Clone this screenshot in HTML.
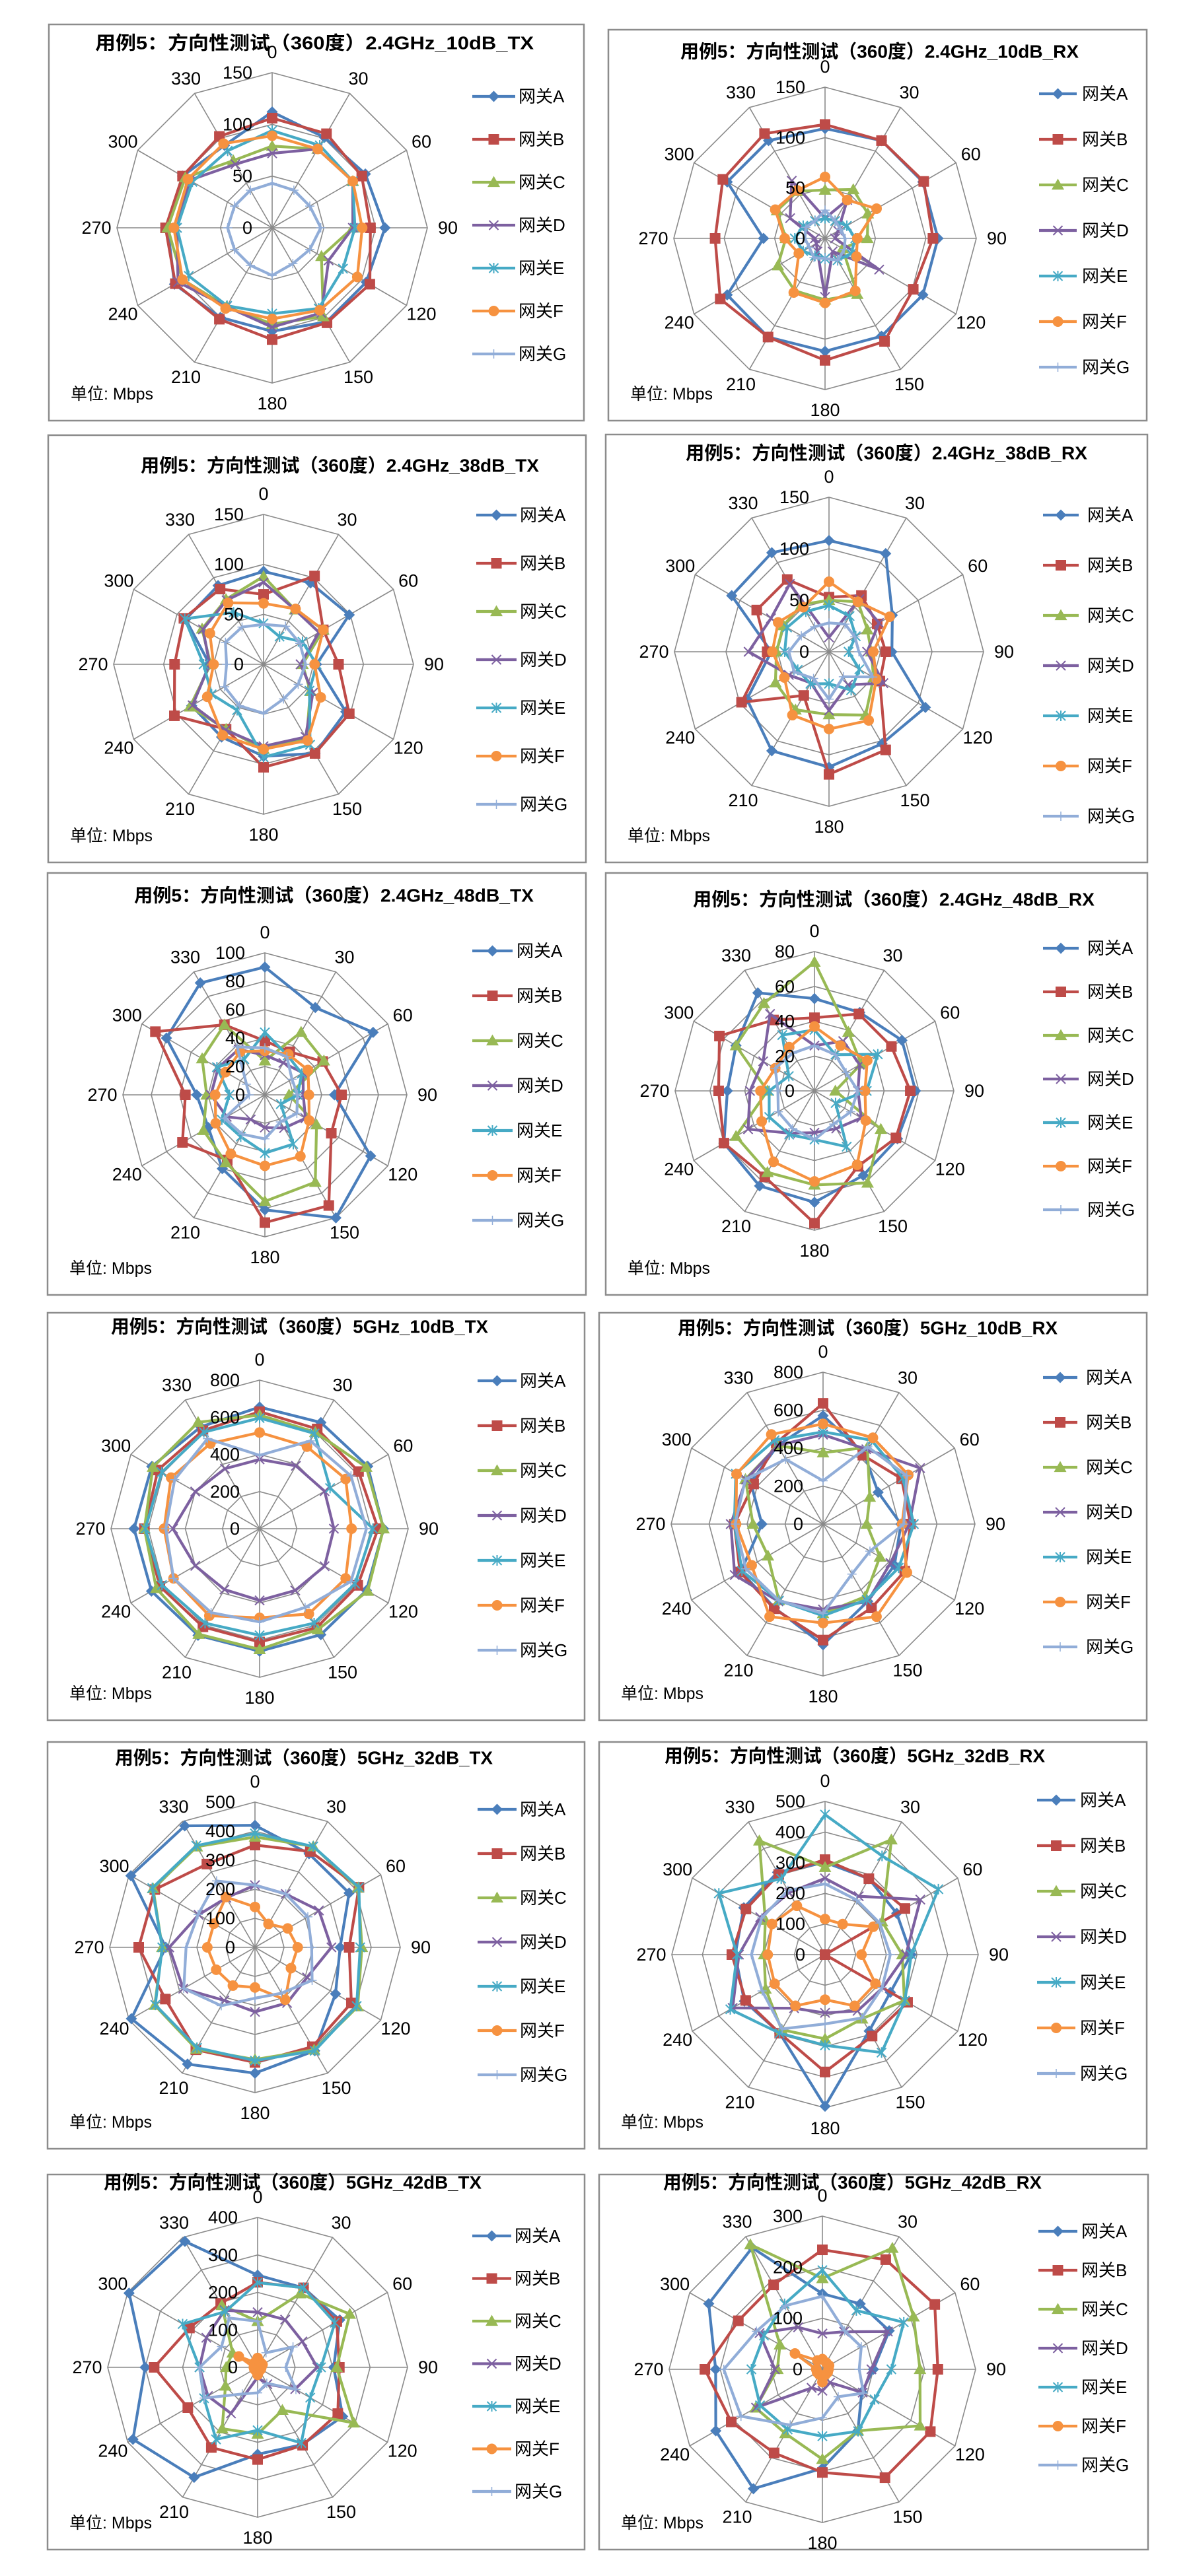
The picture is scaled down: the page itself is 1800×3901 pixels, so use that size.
<!DOCTYPE html>
<html><head><meta charset="utf-8">
<style>
html,body{margin:0;padding:0;background:#fff;}
svg{display:block;}
text{font-family:"Liberation Sans","Noto Sans CJK SC",sans-serif;fill:#000;}
</style></head>
<body>
<svg id="s" width="1800" height="3901" viewBox="0 0 1800 3901" xmlns="http://www.w3.org/2000/svg"></svg>
<script>
var COLORS=["#4A7EBB","#BE4B48","#98B954","#7D60A0","#46AAC5","#F69240","#91ADD8"];
var NAMES=["网关A","网关B","网关C","网关D","网关E","网关F","网关G"];
var charts=[
{t:"2.4GHz_10dB_TX",p:[74,37,884,637],c:[412,345],r:235,max:150,st:50,lg:[715,780,785,146,65],tt:[144,808,65],
d:[[112,101,104,109,105,105,100,100,109,101,100,92],[106,105,100,95,109,106,108,102,108,103,100,102],[79,88,90,78,55,99,93,88,100,101,97,75],[72,88,90,78,63,95,96,88,105,92,92,71],[94,92,90,80,79,90,83,87,93,92,89,86],[89,88,90,87,95,92,88,90,100,95,94,94],[43,42,42,47,42,40,46,42,42,43,42,42]]},
{t:"2.4GHz_10dB_RX",p:[921,45,1736,637],c:[1249,361],r:229,max:150,st:50,lg:[1573,1630,1638,142,69],tt:[1030,1633,78],
d:[[109,112,112,112,112,112,112,113,112,61,112,112],[113,112,113,107,101,118,121,113,120,109,117,120],[48,56,49,42,20,64,61,60,54,39,55,54],[20,44,15,10,62,15,58,15,10,10,40,66],[20,20,25,30,30,25,20,20,25,30,25,20],[61,44,59,32,36,60,64,62,30,40,57,55],[28,20,18,20,22,25,20,22,18,20,22,20]]},
{t:"2.4GHz_38dB_TX",p:[73,659,887,1306],c:[399,1006],r:227,max:150,st:50,lg:[721,782,787,780,73],tt:[213,816,705],
d:[[93,94,99,53,95,103,92,84,83,54,90,91],[70,102,69,75,99,103,103,75,103,89,92,87],[88,63,69,39,54,86,85,75,85,53,71,75],[82,63,64,37,57,84,82,76,82,54,70,74],[41,32,45,53,53,93,93,53,60,60,91,60],[61,64,69,51,66,88,85,82,65,50,62,71],[40,44,42,42,40,40,49,48,45,37,44,43]]},
{t:"2.4GHz_38dB_RX",p:[917,658,1737,1306],c:[1255,987],r:234,max:150,st:50,lg:[1579,1633,1646,780,76],tt:[1038,1646,686],
d:[[108,110,71,61,108,103,112,111,92,56,109,111],[53,63,54,55,57,110,119,49,98,60,81,81],[50,56,43,41,50,71,61,65,60,51,51,53],[14,59,56,37,61,37,57,35,45,78,65,76],[45,40,30,19,34,43,31,36,35,43,47,45],[68,56,68,43,53,77,75,71,50,55,57,50],[28,31,29,29,49,28,46,30,39,39,31,28]]},
{t:"2.4GHz_48dB_TX",p:[72,1322,887,1961],c:[401,1658],r:215,max:100,st:20,lg:[715,776,782,1440,68],tt:[203,808,1356],
d:[[90,71,88,49,86,100,81,60,46,48,80,91],[38,35,47,54,54,90,90,53,67,56,89,57],[24,51,48,17,42,71,75,55,50,41,51,57],[28,26,31,27,33,27,23,20,31,38,38,37],[44,32,30,23,13,40,41,34,35,25,39,29],[31,33,35,31,36,50,50,48,40,35,32,35],[33,31,22,23,26,22,31,32,33,11,15,39]]},
{t:"2.4GHz_48dB_RX",p:[917,1322,1737,1961],c:[1233,1652],r:211,max:80,st:20,lg:[1579,1633,1646,1436,66],tt:[1049,1657,1362],
d:[[53,52,58,58,55,56,64,63,60,50,52,65],[42,51,51,55,54,50,76,57,60,55,63,47],[74,39,31,12,44,61,54,54,52,27,52,58],[26,33,30,25,31,25,24,28,44,37,34,51],[35,24,42,30,14,37,28,29,30,26,17,37],[37,30,35,29,34,49,52,47,35,31,26,29],[26,24,21,25,24,22,28,25,24,21,26,25]]},
{t:"5GHz_10dB_TX",p:[72,1988,885,2605],c:[393,2315],r:225,max:800,st:200,lg:[723,782,787,2091,68],tt:[168,739,2009],
d:[[655,660,672,667,664,659,660,663,672,676,670,633],[630,620,615,638,610,615,610,610,620,620,632,610],[612,600,663,667,672,627,650,656,642,620,663,662],[373,391,404,400,404,384,386,378,400,466,400,373],[596,592,438,610,593,587,574,587,607,615,608,600],[518,510,535,495,535,530,480,541,535,514,550,530],[395,546,568,575,568,490,502,522,535,505,528,560]]},
{t:"5GHz_10dB_RX",p:[907,1988,1736,2605],c:[1246,2308],r:230,max:800,st:200,lg:[1579,1631,1644,2086,68],tt:[1026,1601,2011],
d:[[571,430,335,410,434,470,636,510,500,322,440,478],[636,419,478,460,497,510,611,515,505,467,422,493],[376,467,284,230,346,442,471,465,335,369,472,478],[471,455,590,454,410,470,450,470,537,486,468,478],[486,510,485,478,460,460,483,465,493,467,530,510],[528,525,518,416,510,563,521,563,434,458,526,545],[228,470,509,425,285,304,471,465,470,463,472,394]]},
{t:"5GHz_32dB_TX",p:[72,2638,885,3254],c:[386,2949],r:220,max:500,st:100,lg:[723,782,787,2740,67],tt:[174,746,2662],
d:[[420,372,374,293,320,411,433,464,491,307,493,483],[352,381,413,324,383,395,396,407,356,400,398,331],[380,401,410,368,408,407,386,404,398,319,405,400],[214,212,254,263,207,221,222,211,285,295,224,197],[392,401,413,362,404,411,390,399,396,319,408,404],[139,93,130,147,143,208,138,152,154,164,163,200],[214,212,210,195,227,182,175,232,283,237,226,264]]},
{t:"5GHz_32dB_RX",p:[907,2638,1736,3254],c:[1249,2960],r:232,max:500,st:100,lg:[1570,1628,1635,2726,69],tt:[1006,1582,2659],
d:[[301,286,270,281,246,288,495,296,304,293,306,310],[310,286,301,0,311,307,383,296,299,304,298,302],[285,433,215,252,299,242,275,283,224,199,225,429],[249,220,359,264,217,212,190,202,348,281,244,234],[457,372,427,281,301,369,296,296,357,287,400,286],[116,115,182,119,190,193,147,193,190,187,200,184],[231,206,206,213,215,239,226,280,237,240,239,242]]},
{t:"5GHz_42dB_TX",p:[72,3293,885,3861],c:[390,3585],r:227,max:400,st:100,lg:[715,774,779,3386,64.5],tt:[157,729,3305],
d:[[246,245,253,203,262,238,232,339,384,300,396,388],[227,245,244,218,247,240,246,247,215,276,210,197],[123,227,284,211,296,132,178,189,99,84,77,191],[147,147,138,159,116,52,27,142,153,155,158,176],[226,245,238,169,162,233,168,222,165,155,231,172],[25,15,15,10,10,10,20,10,10,10,58,15],[123,45,109,75,118,49,68,82,164,155,111,152]]},
{t:"5GHz_42dB_RX",p:[907,3293,1738,3861],c:[1245,3588],r:232,max:300,st:100,lg:[1572,1631,1637,3379,59],tt:[1004,1577,3305],
d:[[148,148,151,100,89,139,194,270,241,209,257,275],[234,248,254,226,244,245,202,189,206,230,190,191],[178,274,206,191,221,139,176,145,151,88,96,282],[70,85,148,96,91,30,42,42,150,93,142,95],[194,133,184,135,118,140,131,136,141,139,132,148],[20,15,15,12,12,12,25,12,12,12,62,20],[143,87,88,72,93,62,95,126,184,193,149,144]]}
];
function marker(i,x,y,col){
  var s="";
  if(i==0){var k=8.5;s='<polygon points="'+x+','+(y-k)+' '+(x+k)+','+y+' '+x+','+(y+k)+' '+(x-k)+','+y+'" fill="'+col+'"/>';}
  else if(i==1){var k=8;s='<rect x="'+(x-k)+'" y="'+(y-k)+'" width="'+2*k+'" height="'+2*k+'" fill="'+col+'"/>';}
  else if(i==2){var k=9.5;s='<polygon points="'+x+','+(y-k)+' '+(x+k)+','+(y+k*0.75)+' '+(x-k)+','+(y+k*0.75)+'" fill="'+col+'"/>';}
  else if(i==3){var k=7;s='<path d="M'+(x-k)+' '+(y-k)+'L'+(x+k)+' '+(y+k)+'M'+(x+k)+' '+(y-k)+'L'+(x-k)+' '+(y+k)+'" stroke="'+col+'" stroke-width="2"/>';}
  else if(i==4){var k=7;s='<path d="M'+(x-k)+' '+(y-k)+'L'+(x+k)+' '+(y+k)+'M'+(x+k)+' '+(y-k)+'L'+(x-k)+' '+(y+k)+'M'+x+' '+(y-k-1)+'L'+x+' '+(y+k+1)+'" stroke="'+col+'" stroke-width="2"/>';}
  else if(i==5){s='<circle cx="'+x+'" cy="'+y+'" r="8" fill="'+col+'"/>';}
  else {var k=7;s='<path d="M'+(x-k)+' '+y+'L'+(x+k)+' '+y+'M'+x+' '+(y-k)+'L'+x+' '+(y+k)+'" stroke="'+col+'" stroke-width="1.5"/>';}
  return s;
}
var out="";
charts.forEach(function(ch){
  var p=ch.p,cx=ch.c[0],cy=ch.c[1],R=ch.r;
  out+='<rect x="'+p[0]+'" y="'+p[1]+'" width="'+(p[2]-p[0])+'" height="'+(p[3]-p[1])+'" fill="#fff" stroke="#8c8c8c" stroke-width="2.5"/>';
  var tt=ch.tt;
  out+='<text x="'+tt[0]+'" y="'+tt[2]+'" dominant-baseline="central" font-size="28" font-weight="bold" textLength="'+(tt[1]-tt[0])+'" lengthAdjust="spacingAndGlyphs">用例5：方向性测试（360度）'+ch.t+'</text>';
  var n=ch.max/ch.st;
  function pt(a,rr){var t=a*Math.PI/180;return [cx+rr*Math.sin(t),cy-rr*Math.cos(t)];}
  for(var k=1;k<=n;k++){
    var rr=R*k/n,pts=[];
    for(var a=0;a<360;a+=30){var q=pt(a,rr);pts.push(q[0].toFixed(1)+','+q[1].toFixed(1));}
    out+='<polygon points="'+pts.join(' ')+'" fill="none" stroke="#8a8a8a" stroke-width="1.6"/>';
  }
  for(var a=0;a<360;a+=30){var q=pt(a,R);out+='<line x1="'+cx+'" y1="'+cy+'" x2="'+q[0].toFixed(1)+'" y2="'+q[1].toFixed(1)+'" stroke="#8a8a8a" stroke-width="1.6"/>';}
  for(var a=0;a<360;a+=30){
    var dist=(a%90==0)?R+31:R+26;var q=pt(a,dist);
    out+='<text x="'+q[0].toFixed(1)+'" y="'+q[1].toFixed(1)+'" text-anchor="middle" dominant-baseline="central" font-size="27">'+a+'</text>';
  }
  ch.d.forEach(function(vals,i){
    var pts=[];
    vals.forEach(function(v,j){var q=pt(j*30,R*v/ch.max);pts.push(q);});
    out+='<polygon points="'+pts.map(function(q){return q[0].toFixed(1)+','+q[1].toFixed(1);}).join(' ')+'" fill="none" stroke="'+COLORS[i]+'" stroke-width="4.2" stroke-linejoin="round"/>';
    pts.forEach(function(q){out+=marker(i,q[0],q[1],COLORS[i]);});
  });
  for(var k=0;k<=n;k++){
    var y=cy-R*k/n;
    out+='<text x="'+(cx-30)+'" y="'+y.toFixed(1)+'" text-anchor="end" dominant-baseline="central" font-size="27">'+(k*ch.st)+'</text>';
  }
  var L=ch.lg;
  for(var i=0;i<7;i++){
    var y=L[3]+i*L[4];
    out+='<line x1="'+L[0]+'" y1="'+y+'" x2="'+L[1]+'" y2="'+y+'" stroke="'+COLORS[i]+'" stroke-width="4.2"/>';
    out+=marker(i,(L[0]+L[1])/2,y,COLORS[i]);
    out+='<text x="'+L[2]+'" y="'+y+'" dominant-baseline="central" font-size="26">'+NAMES[i]+'</text>';
  }
  out+='<text x="'+(p[0]+33)+'" y="'+(p[3]-40)+'" dominant-baseline="central" font-size="25">单位:  Mbps</text>';
});
document.getElementById('s').innerHTML=out;
</script>
</body></html>
